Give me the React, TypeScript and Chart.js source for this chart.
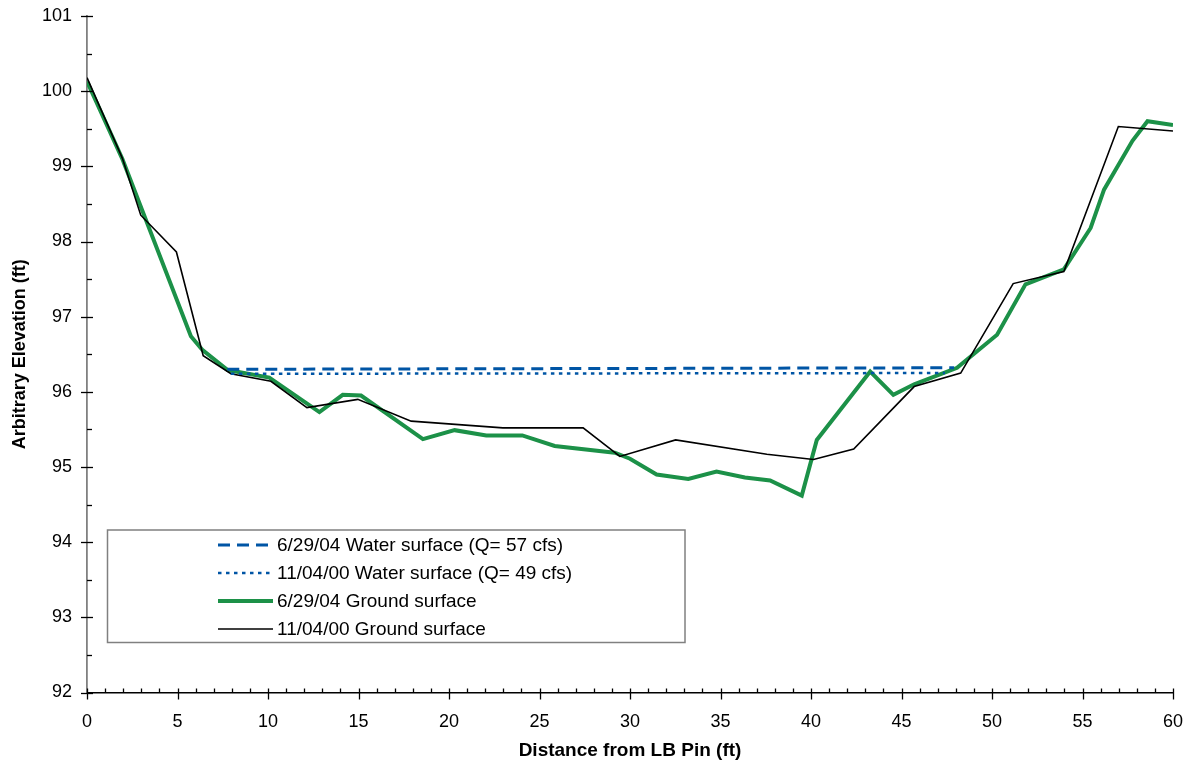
import React, { useEffect, useRef } from "react";
import { Chart, registerables } from "chart.js";

Chart.register(...registerables);

// 6/29/04 ground surface
const ground2004X = [0, 1.95, 5.74, 6.37, 7.77, 10.07, 12.84, 14.13, 15.14, 18.56, 20.31, 22.06, 24.05, 25.84, 29.16, 30.0, 31.47, 33.22, 34.78, 36.35, 37.74, 39.49, 40.32, 43.27, 44.55, 45.7, 48.07, 50.28, 51.85, 53.97, 55.45, 56.19, 57.76, 58.59, 60.0];
const ground2004Y = [100.13, 99.1, 96.74, 96.56, 96.29, 96.19, 95.73, 95.96, 95.95, 95.37, 95.49, 95.42, 95.42, 95.28, 95.19, 95.11, 94.9, 94.84, 94.94, 94.86, 94.82, 94.62, 95.36, 96.27, 95.96, 96.1, 96.32, 96.76, 97.43, 97.63, 98.18, 98.69, 99.34, 99.6, 99.55];

// 11/04/00 ground surface
const ground2000X = [0, 1.95, 2.97, 4.94, 6.42, 7.95, 10.16, 12.15, 14.96, 17.91, 22.98, 27.41, 29.44, 32.52, 37.56, 40.14, 42.36, 45.7, 48.27, 51.17, 53.97, 56.98, 60.0];
const ground2000Y = [100.18, 99.11, 98.35, 97.86, 96.48, 96.24, 96.14, 95.79, 95.9, 95.61, 95.52, 95.52, 95.14, 95.36, 95.17, 95.1, 95.24, 96.07, 96.25, 97.44, 97.6, 99.53, 99.47];

// water surfaces
const water2004X = [7.75, 47.9];
const water2004Y = [96.3, 96.32];
const water2000X = [7.95, 47.4];
const water2000Y = [96.24, 96.25];

const legendLabels = [
  "6/29/04 Water surface (Q= 57 cfs)",
  "11/04/00 Water surface (Q= 49 cfs)",
  "6/29/04 Ground surface",
  "11/04/00 Ground surface",
];

const yTickMin = 92;
const yTickMax = 101;
const xTickMin = 0;
const xTickMax = 60;

const FONT = "'Liberation Sans', Arial, sans-serif";
const BLUE = "#0055a5";
const GREEN = "#1c9148";

const toPts = (xs: number[], ys: number[]) => xs.map((x, i) => ({ x, y: ys[i] }));

const ticksAndLegend = {
  id: "ticksAndLegend",
  afterDraw(chart: any) {
    const { ctx, scales, chartArea } = chart;
    const xs = scales.x;
    const ys = scales.y;
    ctx.save();
    ctx.strokeStyle = "#000";
    ctx.lineWidth = 1.3;
    for (let v = yTickMin; v <= yTickMax + 1e-9; v += 0.5) {
      const py = Math.round(ys.getPixelForValue(v)) + 0.5;
      const major = Math.abs(v - Math.round(v)) < 1e-6;
      ctx.beginPath();
      if (major) {
        ctx.moveTo(chartArea.left - 6, py);
        ctx.lineTo(chartArea.left + 6, py);
      } else {
        ctx.moveTo(chartArea.left, py);
        ctx.lineTo(chartArea.left + 5, py);
      }
      ctx.stroke();
    }
    for (let v = xTickMin; v <= xTickMax; v += 1) {
      const px = Math.round(xs.getPixelForValue(v)) + 0.5;
      const major = v % 5 === 0;
      ctx.beginPath();
      if (major) {
        ctx.moveTo(px, chartArea.bottom - 4);
        ctx.lineTo(px, chartArea.bottom + 7);
      } else {
        ctx.moveTo(px, chartArea.bottom - 4);
        ctx.lineTo(px, chartArea.bottom);
      }
      ctx.stroke();
    }
    // legend
    const bx = 107.5, by = 530, bw = 577.5, bh = 112.5;
    ctx.strokeStyle = "#808080";
    ctx.lineWidth = 1.5;
    ctx.strokeRect(bx, by, bw, bh);
    const rows = [545, 573, 601, 629];
    const styles = [
      { color: BLUE, width: 3, dash: [12, 7] },
      { color: BLUE, width: 2.5, dash: [3.5, 4.5] },
      { color: GREEN, width: 4, dash: [] as number[] },
      { color: "#000", width: 1.6, dash: [] as number[] },
    ];
    ctx.font = `19px ${FONT}`;
    ctx.textBaseline = "middle";
    ctx.textAlign = "left";
    rows.forEach((ry, i) => {
      const s = styles[i];
      ctx.beginPath();
      ctx.strokeStyle = s.color;
      ctx.lineWidth = s.width;
      ctx.setLineDash(s.dash);
      ctx.moveTo(218, ry);
      ctx.lineTo(273, ry);
      ctx.stroke();
      ctx.setLineDash([]);
      ctx.fillStyle = "#000";
      ctx.fillText(legendLabels[i], 277, ry + 1);
    });
    ctx.restore();
  },
};

export default function App() {
  const ref = useRef<HTMLCanvasElement | null>(null);
  useEffect(() => {
    if (!ref.current) return;
    const chart = new Chart(ref.current, {
      type: "line",
      data: {
        datasets: [
          {
            label: legendLabels[0],
            data: toPts(water2004X, water2004Y),
            borderColor: BLUE,
            borderWidth: 3,
            borderDash: [12, 7],
            pointRadius: 0,
            tension: 0,
          },
          {
            label: legendLabels[1],
            data: toPts(water2000X, water2000Y),
            borderColor: BLUE,
            borderWidth: 2.5,
            borderDash: [3.5, 4.5],
            pointRadius: 0,
            tension: 0,
          },
          {
            label: legendLabels[3],
            data: toPts(ground2000X, ground2000Y),
            borderColor: "#000",
            borderWidth: 1.6,
            pointRadius: 0,
            tension: 0,
          },
          {
            label: legendLabels[2],
            data: toPts(ground2004X, ground2004Y),
            borderColor: GREEN,
            borderWidth: 4,
            pointRadius: 0,
            tension: 0,
          },
        ],
      },
      options: {
        animation: false,
        responsive: false,
        maintainAspectRatio: false,
        layout: { padding: { left: 0, right: 12, top: 16, bottom: 0 } },
        plugins: { legend: { display: false }, tooltip: { enabled: false } },
        scales: {
          x: {
            type: "linear",
            min: xTickMin,
            max: xTickMax,
            ticks: {
              stepSize: 5,
              padding: 19,
              color: "#000",
              font: { family: FONT, size: 18 },
              maxRotation: 0,
            },
            grid: { display: true, drawOnChartArea: false, drawTicks: false },
            border: { display: true, color: "#000", width: 1.5 },
            title: {
              display: true,
              text: "Distance from LB Pin (ft)",
              color: "#000",
              font: { family: FONT, size: 19, weight: "bold" },
              padding: { top: 0, bottom: 3 },
            },
            afterFit: (s: any) => {
              s.height = 72.5;
              s.paddingLeft = 0;
              s.paddingRight = 0;
            },
          },
          y: {
            type: "linear",
            min: yTickMin,
            max: yTickMax,
            ticks: {
              stepSize: 1,
              padding: 15,
              color: "#000",
              font: { family: FONT, size: 18 },
            },
            grid: { display: true, drawOnChartArea: false, drawTicks: false },
            border: { display: true, color: "#808080", width: 1.8 },
            title: {
              display: true,
              text: "Arbitrary Elevation (ft)",
              color: "#000",
              font: { family: FONT, size: 18, weight: "bold" },
              padding: { top: 9, bottom: 0 },
            },
            afterFit: (s: any) => {
              s.width = 87;
              s.paddingTop = 0;
              s.paddingBottom = 0;
            },
          },
        },
      },
      plugins: [ticksAndLegend],
    } as any);
    return () => chart.destroy();
  }, []);
  return (
    <div style={{ position: "absolute", left: 0, top: 0, width: 1185, height: 765, background: "#fff" }}>
      <canvas ref={ref} width={1185} height={765} style={{ display: "block" }} />
    </div>
  );
}
